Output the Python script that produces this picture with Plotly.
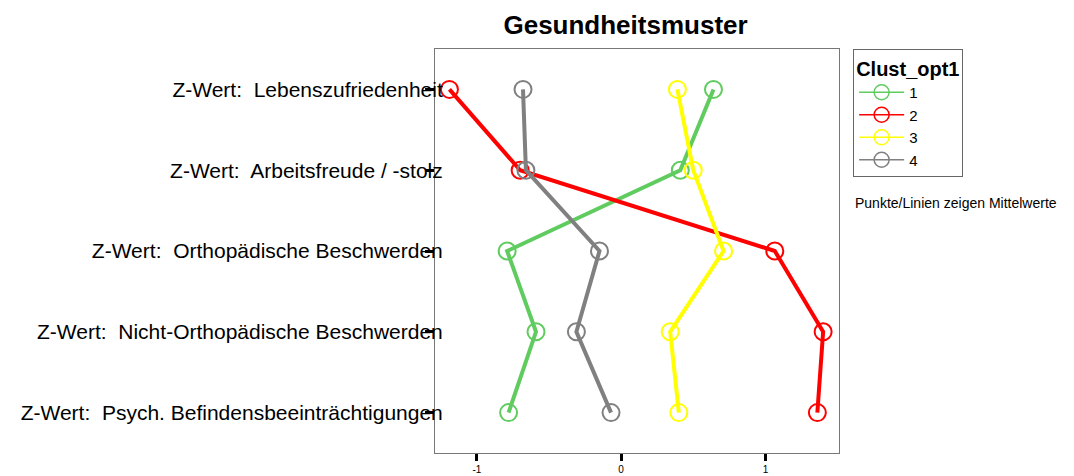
import plotly.graph_objects as go

# variables (y categories)
variables = [
    "Z-Wert:  Lebenszufriedenheit",
    "Z-Wert:  Arbeitsfreude / -stolz",
    "Z-Wert:  Orthopädische Beschwerden",
    "Z-Wert:  Nicht-Orthopädische Beschwerden",
    "Z-Wert:  Psych. Befindensbeeinträchtigungen",
]

# cluster means per variable
clust1 = [0.64, 0.41, -0.79, -0.59, -0.78]
clust2 = [-1.19, -0.70, 1.065, 1.40, 1.36]
clust3 = [0.39, 0.50, 0.71, 0.34, 0.40]
clust4 = [-0.68, -0.66, -0.15, -0.31, -0.07]

cluster_names = ["1", "2", "3", "4"]
colors = ["#60cc60", "#ff0000", "#ffff00", "#808080"]

fig = go.Figure()
for name, vals, col in zip(cluster_names, [clust1, clust2, clust3, clust4], colors):
    fig.add_trace(go.Scatter(
        x=vals, y=variables, name=name, mode="lines+markers", showlegend=False,
        line=dict(color=col, width=4),
        marker=dict(symbol="circle-open", size=17, color=col, line=dict(width=2)),
    ))
    # thin legend-only entry, like the reference key
    fig.add_trace(go.Scatter(
        x=[None], y=[None], name=name, mode="lines+markers",
        line=dict(color=col, width=1.5),
        marker=dict(symbol="circle-open", size=15, color=col, line=dict(width=1.5)),
    ))

fig.update_layout(
    width=1074, height=476,
    margin=dict(l=427, r=243, t=41, b=31),
    plot_bgcolor="white", paper_bgcolor="white",
    font=dict(family="Liberation Sans, Arial, sans-serif", color="black"),
    title=dict(text="<b>Gesundheitsmuster</b>", x=0.575, xanchor="center",
               y=0.964, yanchor="middle", font=dict(size=26)),
    showlegend=True,
    legend=dict(
        title=dict(text="<b>Clust_opt1</b>", font=dict(size=20)),
        x=1.035, xanchor="left", y=1.0, yanchor="top",
        bordercolor="#666666", borderwidth=1, font=dict(size=15),
        tracegroupgap=0, itemwidth=45,
    ),
    annotations=[dict(
        text="Punkte/Linien zeigen Mittelwerte", xref="paper", yref="paper",
        x=1.035, y=0.619, xanchor="left", yanchor="middle", showarrow=False,
        font=dict(size=14),
    )],
)

fig.update_xaxes(
    range=[-1.29, 1.51], tickvals=[-1, 0, 1], ticktext=["-1", "0", "1"],
    ticks="outside", ticklen=7, tickwidth=3, tickcolor="black",
    ticklabelstandoff=0, automargin=False,
    showgrid=False, zeroline=False, showline=True, linecolor="#777777",
    linewidth=1, mirror=True, tickfont=dict(size=10),
)
fig.update_yaxes(
    type="category", categoryorder="array", categoryarray=variables,
    range=[4.5, -0.5], ticks="outside", ticklen=9, tickwidth=3, tickcolor="black",
    ticklabelstandoff=-22, automargin=False,
    showgrid=False, zeroline=False, showline=True, linecolor="#777777",
    linewidth=1, mirror=True, tickfont=dict(size=21),
)

fig.write_html("out.html")
